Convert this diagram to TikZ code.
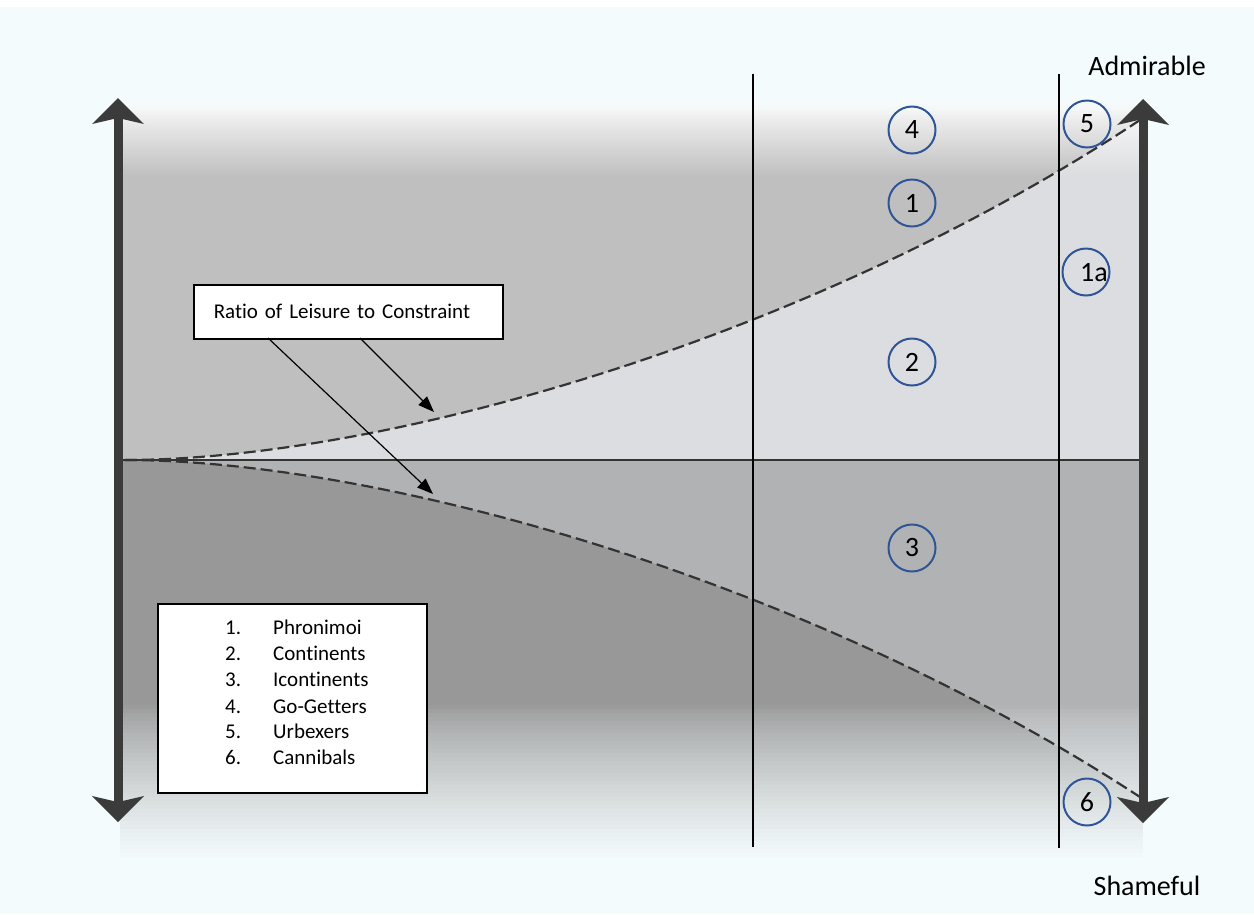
\documentclass[tikz,border=0pt]{standalone}
\usepackage{fontspec}
\setmainfont{Carlito}[Ligatures={NoCommon,NoRare,NoContextual}]
\usetikzlibrary{arrows.meta}
\definecolor{bgc}{HTML}{F4FBFD}
\definecolor{upg}{HTML}{BFBFBF}
\definecolor{lig}{HTML}{DCDDE0}
\definecolor{midg}{HTML}{B1B2B4}
\definecolor{dkg}{HTML}{989898}
\definecolor{axisg}{HTML}{3B3B3B}
\definecolor{circb}{HTML}{2F5597}
\definecolor{dashg}{HTML}{333333}
\tikzset{
  circ/.style={circle, draw=circb, line width=2pt, minimum size=47pt, inner sep=0pt, font=\fontsize{28}{32}\selectfont},
  whitebox/.style={draw=black, fill=white, line width=1.5pt},
  legtext/.style={anchor=base west, inner sep=0pt, font=\fontsize{21}{25}\selectfont},
  pole/.style={inner sep=0pt, font=\fontsize{28}{32}\selectfont},
  divider/.style={line width=2.5pt, black},
  curvedash/.style={dashg, line width=2.2pt, dash pattern=on 12pt off 5pt},
  pointer/.style={line width=1.2pt, -{Triangle[length=16pt,width=12pt]}},
  axisfill/.style={fill=axisg}
}
\begin{document}
\begin{tikzpicture}[x=1pt,y=-1pt]
\useasboundingbox (0,0) rectangle (1254,914);
% background
\fill[bgc] (0,0) rectangle (1254,914);
\fill[white] (0,0) rectangle (1254,7);
% grey field
\fill[upg] (120,97) rectangle (1143,460);
\fill[dkg] (120,460) rectangle (1143,865);
\fill[lig] (125,460) .. controls (375,460) and (800,345) .. (1140,120) -- (1143,120) -- (1143,460) -- cycle;
\fill[midg] (125,460) .. controls (375,460) and (800,575) .. (1140,797) -- (1143,797) -- (1143,460) -- cycle;
% top fade
\foreach \i in {0,...,39}{
  \pgfmathsetmacro\op{1-(\i+0.5)/40}
  \fill[white, opacity=\op] (120,{97+2*\i}) rectangle (1143,{99+2*\i});
}
\foreach \i in {0,...,9}{
  \pgfmathsetmacro\op{1-(\i+0.5)/10}
  \fill[bgc, opacity=\op] (120,{97+2*\i}) rectangle (1143,{99+2*\i});
}
% bottom fade
\foreach \i in {0,...,39}{
  \pgfmathsetmacro\op{min(1,((\i+0.5)/38)^0.75)}
  \fill[bgc, opacity=\op] (120,{705+4*\i}) rectangle (1143,{709+4*\i});
}
% horizontal axis
\coordinate (hl) at (123,460);
\coordinate (hr) at (1140,460);
\draw[line width=1.5pt, dashg] (hl) -- (hr);
% curves
\coordinate (c0) at (125,460);
\coordinate (cu) at (1140,120);
\coordinate (cl) at (1140,797);
\draw[curvedash] (c0) .. controls (375,460) and (800,345) .. (cu);
\draw[curvedash] (c0) .. controls (375,460) and (800,575) .. (cl);
% vertical dividers
\coordinate (v1t) at (753,74);
\coordinate (v1b) at (753,847);
\coordinate (v2t) at (1059,74);
\coordinate (v2b) at (1059,848);
\draw[divider] (v1t) -- (v1b);
\draw[divider] (v2t) -- (v2b);
% left axis arrow
\fill[axisfill] (113.5,117) rectangle (122.5,803);
\fill[axisfill] (118,98) -- (144,124) -- (122.5,119) -- (113.5,119) -- (92,124) -- cycle;
\fill[axisfill] (118,822) -- (144,796) -- (122.5,801) -- (113.5,801) -- (92,796) -- cycle;
% right axis arrow
\fill[axisfill] (1138.5,118) rectangle (1147.5,804);
\fill[axisfill] (1143,99) -- (1169,125) -- (1147.5,120) -- (1138.5,120) -- (1117,125) -- cycle;
\fill[axisfill] (1143,823) -- (1169,797) -- (1147.5,802) -- (1138.5,802) -- (1117,797) -- cycle;
% ratio box
\node[whitebox, anchor=north west, text width=269pt, align=left, inner xsep=20pt, minimum height=54pt,
  font=\fontsize{21}{25}\selectfont] (ratio) at (193,284) {Ratio of Leisure to Constraint};
\coordinate (r1) at (268,338);
\coordinate (r2) at (360,338);
\coordinate (t1) at (433,494);
\coordinate (t2) at (434,412);
\draw[pointer] (r1) -- (t1);
\draw[pointer] (r2) -- (t2);
% legend
\node[whitebox, anchor=north west, minimum width=269pt, minimum height=189pt, inner sep=0pt] (legend) at (157,603) {};
\node[legtext] (n1) at (225,634) {1.};
\node[legtext] (l1) at (273,634) {Phronimoi};
\node[legtext] (n2) at (225,660) {2.};
\node[legtext] (l2) at (273,660) {Continents};
\node[legtext] (n3) at (225,686) {3.};
\node[legtext] (l3) at (273,686) {Icontinents};
\node[legtext] (n4) at (225,713) {4.};
\node[legtext] (l4) at (273,713) {Go-Getters};
\node[legtext] (n5) at (225,738) {5.};
\node[legtext] (l5) at (273,738) {Urbexers};
\node[legtext] (n6) at (225,764) {6.};
\node[legtext] (l6) at (273,764) {Cannibals};
% circles
\node[circ] (c4) at (912,130) {4};
\node[circ] (c1) at (912,203) {1};
\node[circ] (c2) at (912,362) {2};
\node[circ] (c3) at (912,548) {3};
\node[circ] (c5) at (1087,124) {5};
\node[circ] (c1a) at (1086,272) {};
\node[anchor=west, inner sep=0pt, font=\fontsize{28}{32}\selectfont] (t1a) at (1080,273) {1a};
\node[circ] (c6) at (1087,802) {6};
% pole labels
\node[pole] (adm) at (1147,66) {Admirable};
\node[pole] (sha) at (1147,886) {Shameful};
\end{tikzpicture}
\end{document}
